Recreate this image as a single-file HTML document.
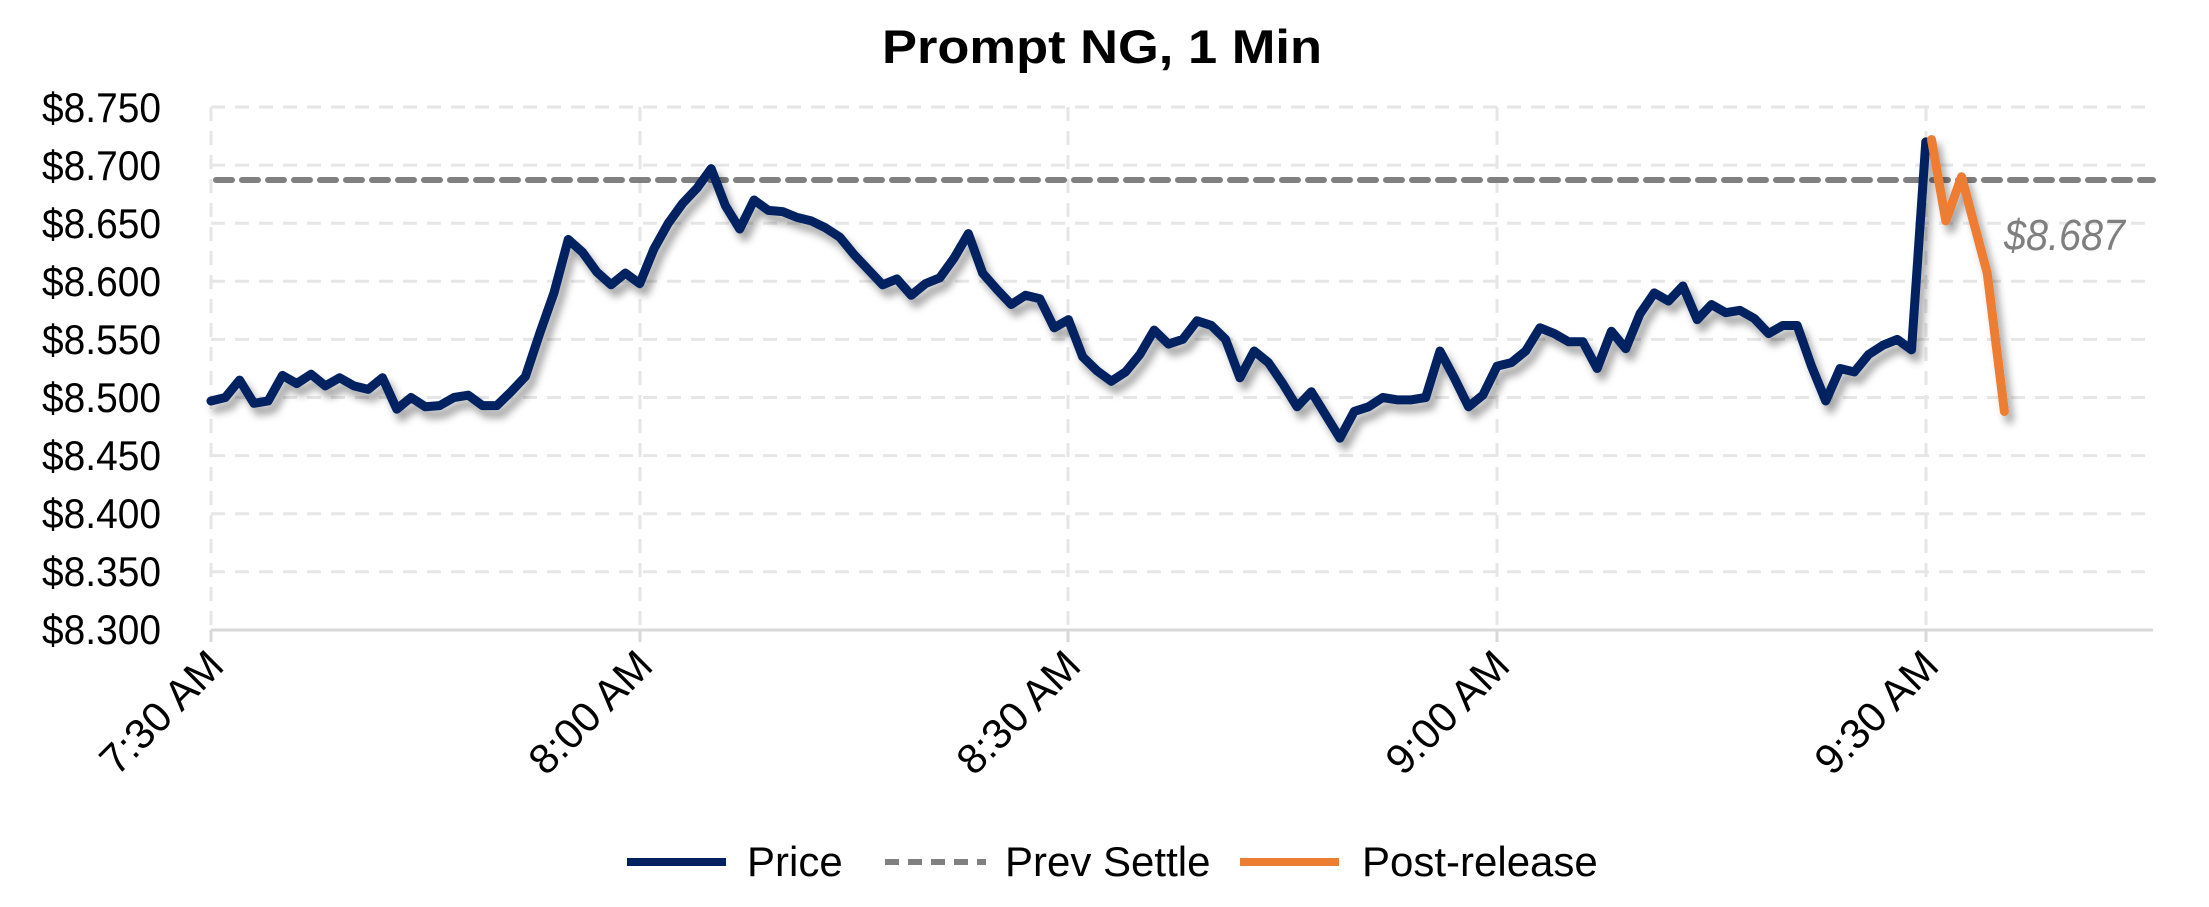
<!DOCTYPE html>
<html><head><meta charset="utf-8"><style>
body{margin:0;background:#fff;}
svg text{font-family:"Liberation Sans",sans-serif;}
</style></head><body>
<svg width="2209" height="902" viewBox="0 0 2209 902" xmlns="http://www.w3.org/2000/svg">
<defs><filter id="sh" x="-5%" y="-20%" width="110%" height="140%"><feDropShadow dx="5" dy="8" stdDeviation="4" flood-color="#000" flood-opacity="0.35"/></filter></defs>
<rect width="2209" height="902" fill="#fff"/>
<text x="1102" y="63" font-size="47" font-weight="bold" text-anchor="middle" textLength="440" lengthAdjust="spacingAndGlyphs">Prompt NG, 1 Min</text>
<g stroke="#e6e6e6" stroke-width="3" stroke-dasharray="14,10" fill="none">
<line x1="211" y1="107" x2="2153" y2="107"/><line x1="211" y1="165.1" x2="2153" y2="165.1"/>
<line x1="211" y1="223.2" x2="2153" y2="223.2"/><line x1="211" y1="281.3" x2="2153" y2="281.3"/>
<line x1="211" y1="339.4" x2="2153" y2="339.4"/><line x1="211" y1="397.5" x2="2153" y2="397.5"/>
<line x1="211" y1="455.6" x2="2153" y2="455.6"/><line x1="211" y1="513.7" x2="2153" y2="513.7"/>
<line x1="211" y1="571.8" x2="2153" y2="571.8"/>
<line x1="211" y1="107" x2="211" y2="630"/><line x1="640" y1="107" x2="640" y2="630"/>
<line x1="1068" y1="107" x2="1068" y2="630"/><line x1="1497" y1="107" x2="1497" y2="630"/>
<line x1="1926" y1="107" x2="1926" y2="630"/>
</g>
<g stroke="#d9d9d9" stroke-width="3"><line x1="211" y1="630" x2="2153" y2="630"/>
<line x1="211" y1="630" x2="211" y2="642"/><line x1="640" y1="630" x2="640" y2="642"/><line x1="1068" y1="630" x2="1068" y2="642"/><line x1="1497" y1="630" x2="1497" y2="642"/><line x1="1926" y1="630" x2="1926" y2="642"/></g>
<g font-size="42">
<text x="42" y="122" textLength="119" lengthAdjust="spacingAndGlyphs">$8.750</text>
<text x="42" y="180" textLength="119" lengthAdjust="spacingAndGlyphs">$8.700</text>
<text x="42" y="238" textLength="119" lengthAdjust="spacingAndGlyphs">$8.650</text>
<text x="42" y="296" textLength="119" lengthAdjust="spacingAndGlyphs">$8.600</text>
<text x="42" y="354" textLength="119" lengthAdjust="spacingAndGlyphs">$8.550</text>
<text x="42" y="412" textLength="119" lengthAdjust="spacingAndGlyphs">$8.500</text>
<text x="42" y="470" textLength="119" lengthAdjust="spacingAndGlyphs">$8.450</text>
<text x="42" y="528" textLength="119" lengthAdjust="spacingAndGlyphs">$8.400</text>
<text x="42" y="586" textLength="119" lengthAdjust="spacingAndGlyphs">$8.350</text>
<text x="42" y="644" textLength="119" lengthAdjust="spacingAndGlyphs">$8.300</text>
</g>
<g font-size="42" text-anchor="end">
<text transform="translate(226,668) rotate(-45)">7:30 AM</text>
<text transform="translate(655,668) rotate(-45)">8:00 AM</text>
<text transform="translate(1083,668) rotate(-45)">8:30 AM</text>
<text transform="translate(1512,668) rotate(-45)">9:00 AM</text>
<text transform="translate(1941,668) rotate(-45)">9:30 AM</text>
</g>
<line x1="216" y1="180" x2="2153" y2="180" stroke="#808080" stroke-width="6" stroke-dasharray="16,10" stroke-linecap="round"/>
<g filter="url(#sh)">
<g transform="matrix(14.29 0 0 -1.162 211 978.5)">
<polyline vector-effect="non-scaling-stroke" fill="none" stroke="#002060" stroke-width="9" stroke-linejoin="round" stroke-linecap="round" points="0,497 1,500 2,515 3,495 4,497 5,519 6,512 7,520 8,510 9,517 10,510 11,507 12,517 13,490 14,500 15,492 16,493 17,500 18,502 19,493 20,493 21,505 22,518 23,555 24,590 25,636 26,625 27,608 28,597 29,607 30,598 31,628 32,650 33,667 34,680 35,697 36,665 37,645 38,670 39,661 40,660 41,655 42,652 43,646 44,638 45,623 46,610 47,597 48,602 49,588 50,598 51,603 52,620 53,641 54,607 55,593 56,580 57,588 58,585 59,560 60,567 61,535 62,523 63,514 64,522 65,537 66,558 67,546 68,550 69,566 70,562 71,550 72,517 73,540 74,530 75,512 76,492 77,505 78,485 79,465 80,488 81,492 82,500 83,498 84,498 85,500 86,540 87,517 88,492 89,502 90,527 91,530 92,540 93,560 94,555 95,548 96,548 97,525 98,557 99,542 100,572 101,590 102,583 103,596 104,567 105,580 106,573 107,575 108,568 109,555 110,562 111,562 112,527 113,497 114,525 115,522 116,537 117,545 118,550 119,541 120,720"/>
<polyline vector-effect="non-scaling-stroke" fill="none" stroke="#ED7D31" stroke-width="9" stroke-linejoin="round" stroke-linecap="round" points="120.4,722 121.4,652 122.5,690 124.3,607 125.5,488"/>
</g></g>
<text x="2004" y="250" font-size="44" font-style="italic" fill="#7f7f7f" textLength="121" lengthAdjust="spacingAndGlyphs">$8.687</text>
<g font-size="42">
<line x1="627" y1="862" x2="726" y2="862" stroke="#002060" stroke-width="8"/>
<text x="747" y="876">Price</text>
<line x1="885" y1="862" x2="986" y2="862" stroke="#808080" stroke-width="6" stroke-dasharray="14,9"/>
<text x="1005" y="876">Prev Settle</text>
<line x1="1240" y1="862" x2="1339" y2="862" stroke="#ED7D31" stroke-width="8"/>
<text x="1362" y="876">Post-release</text>
</g>
</svg>
</body></html>
